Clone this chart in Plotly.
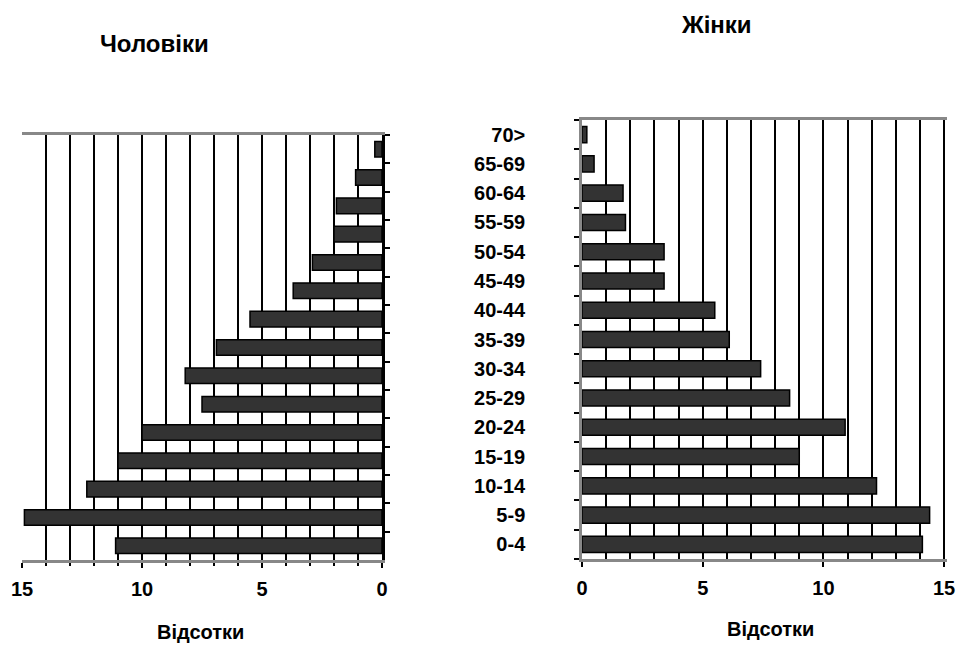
import plotly.graph_objects as go

categories = ["0-4", "5-9", "10-14", "15-19", "20-24", "25-29", "30-34", "35-39",
              "40-44", "45-49", "50-54", "55-59", "60-64", "65-69", "70>"]
men = [11.1, 14.9, 12.3, 11.0, 10.0, 7.5, 8.2, 6.9, 5.5, 3.7, 2.9, 2.0, 1.9, 1.1, 0.3]
women = [14.1, 14.4, 12.2, 9.0, 10.9, 8.6, 7.4, 6.1, 5.5, 3.4, 3.4, 1.8, 1.7, 0.5, 0.2]
x_ticks = [0, 5, 10, 15]
title_men = "Чоловіки"
title_women = "Жінки"
axis_title = "Відсотки"

W, H = 958, 645
font = "Liberation Sans, Arial, sans-serif"

bar_style = dict(color="#333333", line=dict(color="black", width=1.5))
fig = go.Figure()
fig.add_trace(go.Bar(y=categories, x=men, orientation="h", xaxis="x", yaxis="y",
                     marker=bar_style, width=0.55, showlegend=False))
fig.add_trace(go.Bar(y=categories, x=women, orientation="h", xaxis="x2", yaxis="y2",
                     marker=bar_style, width=0.55, showlegend=False))

tickfont = dict(family=font, size=20, color="black", weight="bold")

common_x = dict(tickvals=x_ticks, showgrid=True, gridcolor="black", gridwidth=1.5,
                ticks="outside", ticklen=5, tickcolor="black", tickwidth=1.5,
                showline=True, linecolor="#888888", linewidth=2.5, mirror=True,
                tickfont=tickfont, ticklabelstandoff=4, zeroline=False, fixedrange=True,
                automargin=False)
common_y = dict(type="category", categoryorder="array", categoryarray=categories,
                tickson="boundaries", ticks="outside", ticklen=5, tickcolor="black",
                tickwidth=1.5, showgrid=False, showline=True, linewidth=2.5,
                fixedrange=True, automargin=False)

fig.update_layout(
    width=W, height=H, margin=dict(l=0, r=0, t=0, b=0),
    paper_bgcolor="white", plot_bgcolor="white",
    xaxis=dict(common_x, domain=[22 / W, 382 / W], range=[15, 0], anchor="y",
               minor=dict(dtick=1, ticks="outside", ticklen=3, tickcolor="black",
                          showgrid=True, gridcolor="black", gridwidth=1.5)),
    yaxis=dict(common_y, domain=[1 - 560 / H, 1 - 135 / H], anchor="x", side="right",
               showticklabels=False, linecolor="black"),
    xaxis2=dict(common_x, domain=[582 / W, 947 / W], range=[0, 15.12], anchor="y2",
                minor=dict(dtick=1, showgrid=True, gridcolor="black", gridwidth=1.5)),
    yaxis2=dict(common_y, domain=[1 - 559 / H, 1 - 120 / H], anchor="x2", side="left",
                showticklabels=True, tickfont=tickfont, ticklabelstandoff=50,
                linecolor="#888888"),
    annotations=[
        dict(text=title_men, x=154 / W, y=1 - 44 / H, xref="paper", yref="paper",
             xanchor="center", yanchor="middle", showarrow=False,
             font=dict(family=font, size=24, color="black", weight="bold")),
        dict(text=title_women, x=716 / W, y=1 - 24 / H, xref="paper", yref="paper",
             xanchor="center", yanchor="middle", showarrow=False,
             font=dict(family=font, size=24, color="black", weight="bold")),
        dict(text=axis_title, x=200 / W, y=1 - 632 / H, xref="paper", yref="paper",
             xanchor="center", yanchor="middle", showarrow=False,
             font=dict(family=font, size=20, color="black", weight="bold")),
        dict(text=axis_title, x=770 / W, y=1 - 629 / H, xref="paper", yref="paper",
             xanchor="center", yanchor="middle", showarrow=False,
             font=dict(family=font, size=20, color="black", weight="bold")),
    ],
)

fig.write_html("out.html", config={"displayModeBar": False},
               post_script="document.body.style.margin='0';")
